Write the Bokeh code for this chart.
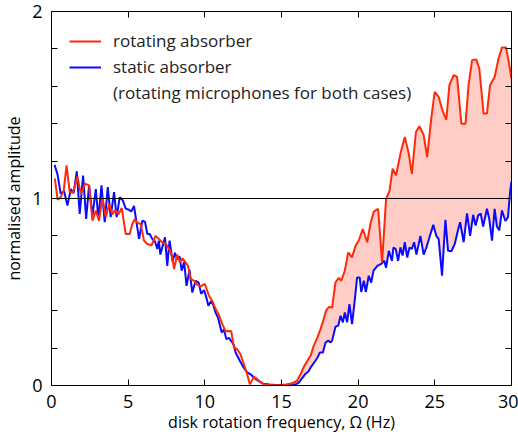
import numpy as np
from bokeh.plotting import figure
from bokeh.models import (Range1d, FixedTicker, LinearAxis, Span, Legend, LegendItem)
from bokeh.embed import file_html
from bokeh.resources import INLINE

# ---------------- data ----------------
red_x = [0.22, 0.4, 0.6, 0.8, 0.98, 1.19, 1.4, 1.69, 1.91, 2.19, 2.45, 2.67, 2.89, 3.1, 3.32,
         3.54, 3.76, 3.97, 4.15, 4.37, 4.58, 4.84, 5.1, 5.27, 5.43, 5.6, 5.82, 6.03, 6.25, 6.53,
         6.79, 7.0, 7.2, 7.45, 7.73, 7.9, 7.99, 8.2, 8.37, 8.55, 8.73, 8.9, 9.07, 9.3, 9.5,
         9.73, 10.0, 10.27, 10.5, 10.7, 10.9, 11.14, 11.35, 11.57, 11.72, 11.9, 12.1, 12.3, 12.55,
         12.76, 12.94, 13.2, 13.4, 13.6, 13.9, 14.3, 14.8, 15.3, 15.7, 16.0, 16.24, 16.46, 16.68,
         16.9, 17.1, 17.33, 17.54, 17.7, 17.9, 18.1, 18.3, 18.52, 18.74, 18.9, 19.13, 19.35, 19.6,
         19.83, 20.04, 20.3, 20.59, 20.8, 21.02, 21.3, 21.56, 21.82, 22.04, 22.25, 22.47, 22.76,
         23.04, 23.3, 23.5, 23.77, 23.99, 24.27, 24.5, 24.77, 24.99, 25.25, 25.5, 25.75, 25.95,
         26.23, 26.45, 26.73, 27.0, 27.2, 27.43, 27.7, 27.9, 28.18, 28.4, 28.6, 28.9, 29.16, 29.38,
         29.64, 29.8, 30.0]
red_y = [1.106, 0.993, 1.007, 1.043, 1.177, 1.034, 1.03, 1.118, 1.025, 1.079, 1.07, 0.882, 0.936,
         0.88, 1.007, 0.90, 0.97, 0.915, 0.94, 0.915, 0.95, 0.81, 0.81, 0.864, 0.89, 0.87, 0.864,
         0.775, 0.757, 0.75, 0.80, 0.784, 0.766, 0.76, 0.72, 0.68, 0.623, 0.70, 0.66, 0.68, 0.66,
         0.64, 0.57, 0.56, 0.54, 0.53, 0.543, 0.48, 0.45, 0.41, 0.38, 0.328, 0.29, 0.292, 0.29,
         0.203, 0.195, 0.17, 0.114, 0.06, 0.006, 0.046, 0.035, 0.02, 0.005, 0.002, 0.002, 0.005,
         0.012, 0.024, 0.06, 0.10, 0.131, 0.16, 0.212, 0.255, 0.30, 0.34, 0.40, 0.42, 0.417, 0.551,
         0.575, 0.56, 0.614, 0.712, 0.685, 0.748, 0.775, 0.837, 0.766, 0.865, 0.93, 0.945, 0.658,
         0.998, 1.04, 1.159, 1.124, 1.24, 1.329, 1.24, 1.132, 1.356, 1.386, 1.34, 1.221, 1.43, 1.57,
         1.543, 1.47, 1.42, 1.606, 1.66, 1.65, 1.40, 1.40, 1.606, 1.74, 1.744, 1.695, 1.454, 1.454,
         1.606, 1.65, 1.75, 1.808, 1.808, 1.74, 1.64]

blue_x = [0.2, 0.39, 0.6, 0.82, 1.04, 1.26, 1.45, 1.65, 1.84, 2.06, 2.26, 2.45, 2.67, 2.89, 3.06,
          3.26, 3.47, 3.67, 3.86, 4.08, 4.25, 4.45, 4.65, 4.84, 5.05, 5.2, 5.38, 5.71, 5.93, 6.1,
          6.25, 6.4, 6.57, 6.75, 6.9, 7.0, 7.1, 7.4, 7.55, 7.7, 7.9, 8.05, 8.2, 8.35, 8.49, 8.65,
          8.81, 9.0, 9.18, 9.4, 9.6, 9.76, 9.95, 10.1, 10.23, 10.4, 10.55, 10.7, 10.87, 11.1, 11.25,
          11.4, 11.57, 11.75, 11.9, 12.0, 12.3, 12.5, 12.76, 12.98, 13.3, 13.55, 13.8, 14.2, 14.6,
          15.0, 15.5, 15.9, 16.13, 16.35, 16.57, 16.75, 16.93, 17.2, 17.35, 17.5, 17.7, 17.87, 18.05,
          18.2, 18.3, 18.52, 18.7, 18.85, 19.0, 19.13, 19.28, 19.43, 19.6, 19.77, 19.93, 20.1, 20.2,
          20.37, 20.5, 20.69, 20.85, 21.0, 21.25, 21.5, 21.7, 21.82, 22.0, 22.2, 22.3, 22.45, 22.6,
          22.76, 22.9, 23.04, 23.2, 23.35, 23.5, 23.65, 23.8, 24.06, 24.27, 24.45, 24.65, 24.9, 25.1,
          25.25, 25.47, 25.69, 25.86, 26.08, 26.3, 26.5, 26.65, 26.88, 27.1, 27.3, 27.5, 27.66,
          27.83, 27.99, 28.15, 28.4, 28.55, 28.73, 28.9, 29.05, 29.2, 29.38, 29.6, 29.77, 29.92, 30.0]
blue_y = [1.18, 1.13, 1.025, 1.04, 0.962, 1.05, 1.03, 1.146, 0.918, 1.123, 0.891, 1.07, 0.909,
          1.05, 0.891, 1.07, 0.873, 1.061, 0.90, 1.034, 0.90, 1.007, 0.99, 0.946, 0.94, 0.93, 0.96,
          0.784, 0.882, 0.875, 0.81, 0.81, 0.784, 0.77, 0.73, 0.775, 0.70, 0.793, 0.64, 0.775, 0.66,
          0.71, 0.675, 0.69, 0.614, 0.66, 0.533, 0.62, 0.498, 0.56, 0.55, 0.49, 0.51, 0.47, 0.426,
          0.45, 0.43, 0.39, 0.36, 0.283, 0.30, 0.248, 0.255, 0.235, 0.215, 0.178, 0.13, 0.10, 0.07,
          0.06, 0.035, 0.022, 0.01, 0.005, 0.003, 0.003, 0.002, 0.005, 0.015, 0.04, 0.063, 0.075,
          0.10, 0.131, 0.15, 0.176, 0.176, 0.23, 0.24, 0.23, 0.24, 0.314, 0.32, 0.373, 0.338, 0.39,
          0.338, 0.435, 0.328, 0.45, 0.578, 0.578, 0.50, 0.56, 0.50, 0.587, 0.55, 0.614, 0.64, 0.65,
          0.667, 0.63, 0.72, 0.667, 0.738, 0.73, 0.667, 0.738, 0.695, 0.766, 0.685, 0.738, 0.73,
          0.766, 0.70, 0.80, 0.70, 0.738, 0.793, 0.859, 0.80, 0.783, 0.587, 0.886, 0.721, 0.718,
          0.757, 0.828, 0.873, 0.766, 0.921, 0.80, 0.913, 0.855, 0.91, 0.92, 0.85, 0.945, 0.89,
          0.775, 0.945, 0.85, 0.83, 0.936, 0.88, 0.90, 1.043, 1.09]

x_ticks = [0, 5, 10, 15, 20, 25, 30]
y_ticks = [0, 1, 2]
y_minor = [0.2, 0.4, 0.6, 0.8, 1.2, 1.4, 1.6, 1.8]
reference_level = 1
fill_start = 15.5

labels = ["rotating absorber", "static absorber", "(rotating microphones for both cases)"]

RED = "#FF2A0A"
BLUE = "#0A0AFF"
FILL = "#FFCCC6"
FONT = "Open Sans"

# ---------------- figure ----------------
p = figure(width=518, height=435, output_backend="svg", toolbar_location=None,
           x_range=Range1d(0, 30), y_range=Range1d(0, 2),
           min_border_left=51, min_border_right=7, min_border_top=11, min_border_bottom=50)
p.background_fill_color = "white"
p.border_fill_color = "white"
p.outline_line_color = "black"
p.outline_line_width = 1
p.grid.visible = False

# shaded region between the two curves (where the rotating absorber is higher)
gx = np.union1d([v for v in red_x if v >= fill_start], [v for v in blue_x if v >= fill_start])
gx = np.union1d(gx, [fill_start])
r_i = np.interp(gx, red_x, red_y)
b_i = np.interp(gx, blue_x, blue_y)
top = np.maximum(r_i, b_i)
p.varea(x=gx, y1=b_i, y2=top, fill_color=FILL, fill_alpha=1.0)

p.add_layout(Span(location=reference_level, dimension="width", line_color="black", line_width=1))

r_blue = p.line(blue_x, blue_y, line_color=BLUE, line_width=2)
r_red = p.line(red_x, red_y, line_color=RED, line_width=2)
dummy = p.line([0], [0], line_alpha=0)

# axes
xa = p.xaxis[0]
xa.ticker = FixedTicker(ticks=x_ticks)
ya = p.yaxis[0]
ya.ticker = FixedTicker(ticks=y_ticks, minor_ticks=y_minor)
for ax in (xa, ya):
    ax.major_tick_in = 6
    ax.major_tick_out = 0
    ax.minor_tick_in = 6
    ax.minor_tick_out = 0
    ax.axis_line_color = "black"
    ax.major_tick_line_color = "black"
    ax.minor_tick_line_color = "black"
    ax.major_label_text_font = FONT
    ax.major_label_text_font_size = "18px"
    ax.major_label_text_color = "black"
    ax.axis_label_text_font = FONT
    ax.axis_label_text_font_size = "16px"
    ax.axis_label_text_font_style = "normal"
    ax.axis_label_text_color = "black"
xa.minor_tick_line_color = None
xa.major_label_standoff = 9
xa.axis_label_standoff = 0
ya.major_label_standoff = 9
ya.axis_label_standoff = 4
xa.axis_label = "disk rotation frequency, \u03a9 (Hz)"
ya.axis_label = "normalised amplitude"

top_ax = LinearAxis(ticker=FixedTicker(ticks=x_ticks),
                    major_label_overrides={t: "" for t in x_ticks})
right_ax = LinearAxis(ticker=FixedTicker(ticks=y_ticks, minor_ticks=y_minor),
                      major_label_overrides={t: "" for t in y_ticks})
for ax in (top_ax, right_ax):
    ax.major_tick_in = 6
    ax.major_tick_out = 0
    ax.minor_tick_in = 6
    ax.minor_tick_out = 0
    ax.axis_line_color = "black"
    ax.major_label_standoff = 0
top_ax.minor_tick_line_color = None
p.add_layout(top_ax, "above")
p.add_layout(right_ax, "right")

legend = Legend(items=[LegendItem(label=labels[0], renderers=[r_red]),
                       LegendItem(label=labels[1], renderers=[r_blue]),
                       LegendItem(label=labels[2], renderers=[dummy])],
                location="top_left", border_line_color=None, background_fill_alpha=0,
                label_text_font=FONT, label_text_font_size="17px", label_text_color="#222222",
                glyph_width=32, label_standoff=12, spacing=3, padding=10, margin=18,
                label_height=20, glyph_height=20)
p.add_layout(legend)

open("out.html", "w").write(file_html(p, INLINE))
